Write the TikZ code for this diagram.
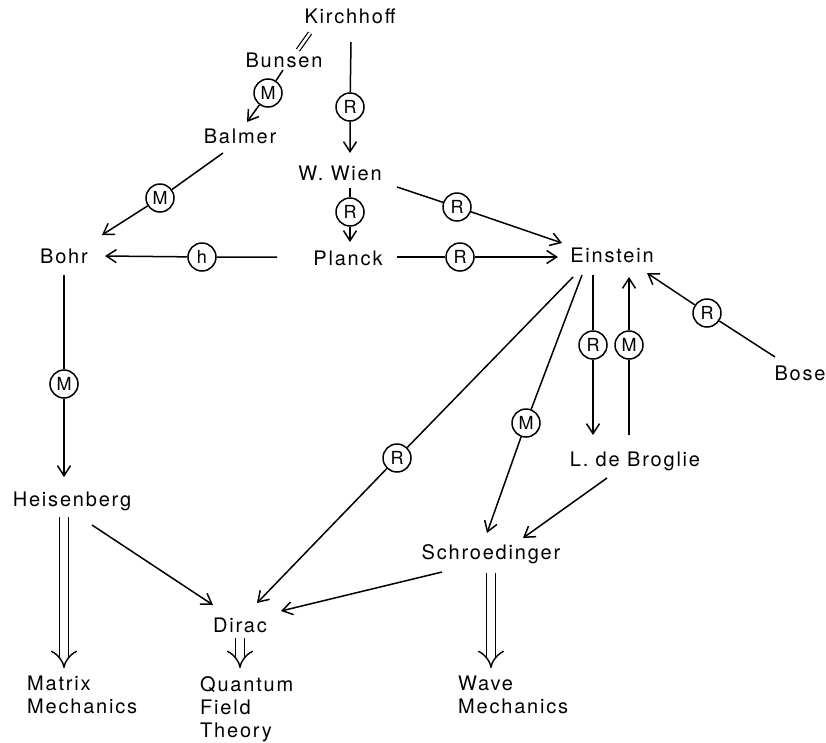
\documentclass[tikz,border=0pt]{standalone}
\usepackage{fontspec}
\setmainfont{TeX Gyre Heros}[LetterSpace=9]
\usetikzlibrary{arrows.meta,calc}
\begin{document}
\begin{tikzpicture}[x=1pt,y=-1pt,
  lbl/.style={anchor=base,inner sep=0pt,font=\fontsize{20}{24}\selectfont},
  mlbl/.style={anchor=north west,inner sep=0pt,align=left,font=\fontsize{20}{23}\selectfont},
  circ/.style={circle,draw,line width=1.5pt,minimum size=28pt,inner sep=0pt,font=\fontsize{18}{20}\selectfont},
  conn/.style={line width=1.5pt},
  arr/.style={conn,-{Straight Barb[length=10pt,width=13pt]}},
  dbl/.style={line width=1.4pt,double,double distance=8pt,-{Implies[length=9pt]}}
]
\useasboundingbox (0,0) rectangle (826,742);
% text nodes
\node[lbl] (kir) at (350,23) {Kirchhoff};
\node[lbl] (bun) at (284,67) {Bunsen};
\node[lbl] (bal) at (240,143) {Balmer};
\node[lbl] (wien) at (340,180) {W. Wien};
\node[lbl] (bohr) at (64,263) {Bohr};
\node[lbl] (planck) at (348,265) {Planck};
\node[lbl] (ein) at (612,262) {Einstein};
\node[lbl] (bose) at (800,380) {Bose};
\node[lbl] (brog) at (635,466) {L. de Broglie};
\node[lbl] (heis) at (72,506) {Heisenberg};
\node[lbl] (schr) at (491,559) {Schroedinger};
\node[lbl] (dirac) at (240,632) {Dirac};
\node[mlbl] (mm) at (27,676) {Matrix\\Mechanics};
\node[mlbl] (qft) at (200,676) {Quantum\\Field\\Theory};
\node[mlbl] (wm) at (458,676) {Wave\\Mechanics};
% label circles
\node[circ] (c1) at (350,107) {R};
\node[circ] (c2) at (268,93) {M};
\node[circ] (c3) at (160,198) {M};
\node[circ] (c4) at (350,212) {R};
\node[circ] (c5) at (457,207) {R};
\node[circ] (c6) at (202,257) {h};
\node[circ] (c7) at (460,257) {R};
\node[circ] (c8) at (397,458) {R};
\node[circ] (c9) at (526,423) {M};
\node[circ] (c10) at (593,345) {R};
\node[circ] (c11) at (629,345) {M};
\node[circ] (c12) at (707,313) {R};
\node[circ] (c13) at (64,384) {M};
% connectors
\draw[line width=1.2pt,double,double distance=2.5pt] ($(kir.base)+(-40,10)$) -- ($(bun.base)+(14,-17)$);
\draw[arr] ($(kir.base)+(1,19)$) -- (c1) -- ($(wien.base)+(10,-27)$);
\draw[arr] ($(bun.base)+(-1,3)$) -- (c2) -- ($(bal.base)+(7,-21)$);
\draw[arr] ($(bal.base)+(-17,10)$) -- (c3) -- ($(bohr.base)+(38,-28)$);
\draw[arr] ($(wien.base)+(10,8)$) -- (c4) -- ($(planck.base)+(2,-23)$);
\draw[arr] ($(wien.base)+(57,7)$) -- (c5) -- ($(ein.base)+(-50,-19)$);
\draw[arr] ($(planck.base)+(-71,-8)$) -- (c6) -- ($(bohr.base)+(41,-7)$);
\draw[arr] ($(planck.base)+(49,-8)$) -- (c7) -- ($(ein.base)+(-54,-5)$);
\draw[arr] ($(ein.base)+(-39,15)$) -- (c8) -- ($(dirac.base)+(17,-29)$);
\draw[arr] ($(ein.base)+(-30,13)$) -- (c9) -- ($(schr.base)+(-4,-26)$);
\draw[arr] ($(ein.base)+(-19,13)$) -- (c10) -- ($(brog.base)+(-42,-31)$);
\draw[arr] ($(brog.base)+(-6,-31)$) -- (c11) -- ($(ein.base)+(17,15)$);
\draw[arr] ($(bose.base)+(-25,-23)$) -- (c12) -- ($(ein.base)+(35,11)$);
\draw[arr] ($(brog.base)+(-28,12)$) -- ($(schr.base)+(32,-21)$);
\draw[arr] ($(schr.base)+(-49,13)$) -- ($(dirac.base)+(41,-21)$);
\draw[arr] ($(heis.base)+(20,19)$) -- ($(dirac.base)+(-27,-27)$);
\draw[arr] ($(bohr.base)+(0,12)$) -- (c13) -- ($(heis.base)+(-8,-29)$);
\draw[dbl] ($(heis.base)+(-8,11)$) -- ($(mm.north west)+(37,-8)$);
\draw[dbl] ($(dirac.base)+(0,6)$) -- ($(qft.north west)+(40,-8)$);
\draw[dbl] ($(schr.base)+(0,14)$) -- ($(wm.north west)+(33,-8)$);
\end{tikzpicture}
\end{document}
